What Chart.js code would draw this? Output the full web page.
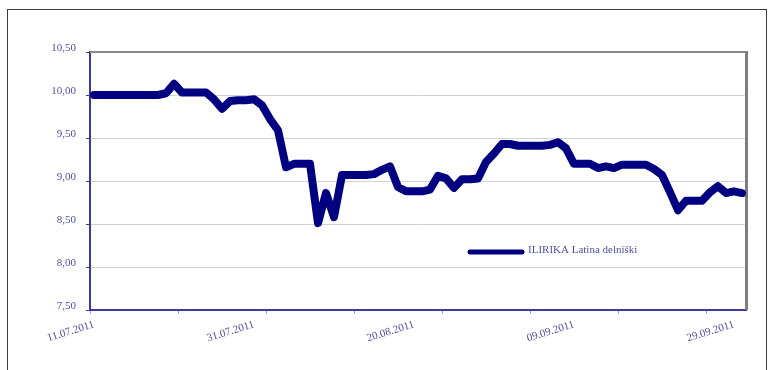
<!DOCTYPE html>
<html>
<head>
<meta charset="utf-8">
<title>ILIRIKA Latina delniški</title>
<script src="https://cdn.jsdelivr.net/npm/chart.js@4/dist/chart.umd.min.js"></script>
<style>
  html, body { margin: 0; padding: 0; background: #ffffff; }
  canvas { display: block; }
</style>
</head>
<body>
<canvas id="chart" width="774" height="370"></canvas>
<script>
// Daily unit price of the fund, one value per calendar day from 11.07.2011
const seriesName = 'ILIRIKA Latina delniški';
const firstDay = { year: 2011, month: 7, day: 11 };
const unitPrices = [
  10.00, 10.00, 10.00, 10.00, 10.00, 10.00, 10.00, 10.00, 10.00, 10.02,
  10.13, 10.03, 10.03, 10.03, 10.03, 9.95, 9.84, 9.93, 9.94, 9.94,
  9.95, 9.88, 9.72, 9.59, 9.16, 9.20, 9.20, 9.20, 8.51, 8.86,
  8.58, 9.07, 9.07, 9.07, 9.07, 9.08, 9.13, 9.17, 8.93, 8.88,
  8.88, 8.88, 8.90, 9.06, 9.03, 8.92, 9.02, 9.02, 9.03, 9.22,
  9.32, 9.43, 9.43, 9.41, 9.41, 9.41, 9.41, 9.42, 9.45, 9.38,
  9.20, 9.20, 9.20, 9.15, 9.17, 9.15, 9.19, 9.19, 9.19, 9.19,
  9.14, 9.07, 8.87, 8.66, 8.77, 8.77, 8.77, 8.87, 8.94, 8.86,
  8.88, 8.86
];

// Date labels shown under the axis (every 20 days) and the day index of each
const tickLabels = ['11.07.2011', '31.07.2011', '20.08.2011', '09.09.2011', '29.09.2011'];
const tickLabelDays = [0, 20, 40, 60, 80];
// Axis tick marks sit on day boundaries, every 11 days
const tickMarkDays = [-0.5, 10.5, 21.5, 32.5, 43.5, 54.5, 65.5, 76.5];

// Value axis ticks
const yMin = 7.5, yMax = 10.5, yStep = 0.5;

// Calendar dates for each value
const dates = unitPrices.map((_, i) => {
  const d = new Date(Date.UTC(firstDay.year, firstDay.month - 1, firstDay.day + i));
  const dd = String(d.getUTCDate()).padStart(2, '0');
  const mm = String(d.getUTCMonth() + 1).padStart(2, '0');
  return dd + '.' + mm + '.' + d.getUTCFullYear();
});

const points = unitPrices.map((v, i) => ({ x: i, y: v, date: dates[i] }));

const axisBlue = '#3a3a9e';
const labelBlue = '#5050aa';
const serif = '"Liberation Serif", "DejaVu Serif", serif';

// Outer frame and the grey top/right edges of the plot area
const framePlugin = {
  id: 'frame',
  beforeDraw(chart) {
    const ctx = chart.ctx;
    ctx.save();
    ctx.fillStyle = '#ffffff';
    ctx.fillRect(0, 0, chart.width, chart.height);
    ctx.strokeStyle = '#3c3c3c';
    ctx.lineWidth = 1;
    ctx.strokeRect(7.5, 9.5, chart.width - 15, chart.height + 20);
    ctx.restore();
  },
  beforeDatasetsDraw(chart) {
    const { ctx, chartArea: a } = chart;
    ctx.save();
    ctx.strokeStyle = '#8a8a8a';
    ctx.lineWidth = 2;
    ctx.beginPath();
    ctx.moveTo(a.left, a.top);
    ctx.lineTo(a.right, a.top);
    ctx.stroke();
    ctx.lineWidth = 3;
    ctx.strokeStyle = '#7e7e7e';
    ctx.beginPath();
    ctx.moveTo(a.right + 0.5, a.top - 1);
    ctx.lineTo(a.right + 0.5, a.bottom);
    ctx.stroke();
    ctx.restore();
  }
};

// Series key placed inside the plot area
const keyPlugin = {
  id: 'seriesKey',
  afterDraw(chart) {
    const { ctx, chartArea: a } = chart;
    const ds = chart.data.datasets[0];
    const x0 = a.left + 380;
    const y0 = a.top + 200;
    ctx.save();
    ctx.strokeStyle = ds.borderColor;
    ctx.lineWidth = 5;
    ctx.lineCap = 'round';
    ctx.beginPath();
    ctx.moveTo(x0, y0);
    ctx.lineTo(x0 + 52, y0);
    ctx.stroke();
    ctx.fillStyle = labelBlue;
    ctx.font = '11px ' + serif;
    ctx.textBaseline = 'middle';
    ctx.fillText(ds.label, x0 + 58, y0 - 2);
    ctx.restore();
  }
};

new Chart(document.getElementById('chart'), {
  type: 'line',
  data: {
    datasets: [{
      label: seriesName,
      data: points,
      borderColor: '#000080',
      borderWidth: 8,
      borderJoinStyle: 'round',
      borderCapStyle: 'round',
      pointRadius: 0,
      tension: 0,
      fill: false
    }]
  },
  options: {
    responsive: false,
    animation: false,
    events: [],
    layout: { padding: { left: 10, top: 52, right: 28, bottom: 0 } },
    plugins: {
      legend: { display: false },
      tooltip: { enabled: false }
    },
    scales: {
      x: {
        type: 'linear',
        min: -0.5,
        max: unitPrices.length - 0.5,
        afterBuildTicks(scale) {
          const vals = tickLabelDays.concat(tickMarkDays).sort((a, b) => a - b);
          scale.ticks = vals.map(v => ({ value: v }));
        },
        afterFit(scale) { scale.height = 60; },
        ticks: {
          autoSkip: false,
          minRotation: 17,
          maxRotation: 17,
          padding: 4,
          color: labelBlue,
          font: { family: serif, size: 11 },
          callback(value) {
            const k = tickLabelDays.indexOf(value);
            return k >= 0 ? tickLabels[k] : '';
          }
        },
        grid: {
          drawOnChartArea: false,
          drawTicks: true,
          tickLength: 4,
          tickWidth: 1,
          tickColor(ctx) {
            return ctx.tick && tickLabelDays.includes(ctx.tick.value) ? 'rgba(0,0,0,0)' : '#9a9ad0';
          }
        },
        border: { display: true, color: axisBlue, width: 2 }
      },
      y: {
        min: yMin,
        max: yMax,
        afterFit(scale) { scale.width = 80; },
        ticks: {
          stepSize: yStep,
          padding: 10,
          labelOffset: -4,
          color: labelBlue,
          font: { family: serif, size: 11 },
          callback(value) { return Number(value).toFixed(2).replace('.', ','); }
        },
        grid: {
          color(ctx) {
            return ctx.tick && ctx.tick.value >= yMax ? 'rgba(0,0,0,0)' : '#d2d2d2';
          },
          lineWidth: 1,
          drawTicks: true,
          tickLength: 4,
          tickColor: axisBlue
        },
        border: { display: true, color: axisBlue, width: 2 }
      }
    }
  },
  plugins: [framePlugin, keyPlugin]
});
</script>
</body>
</html>
